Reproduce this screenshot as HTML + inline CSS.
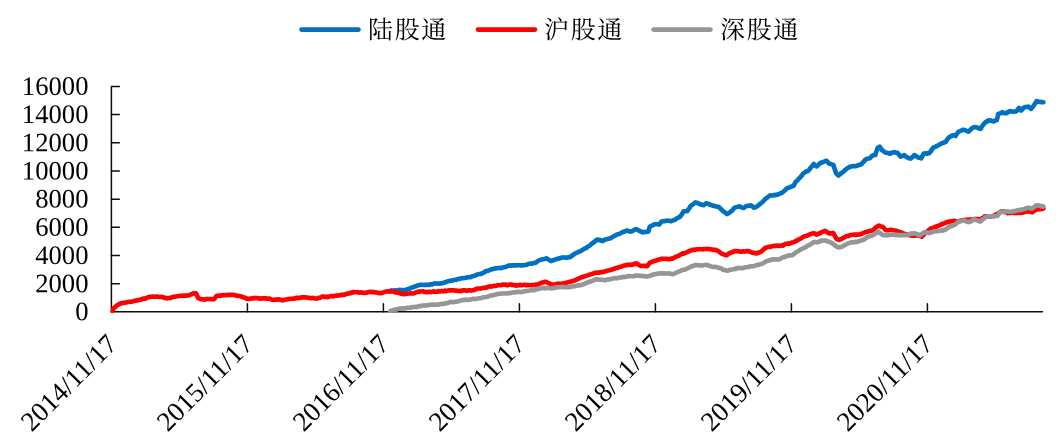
<!DOCTYPE html>
<html lang="zh-CN"><head><meta charset="utf-8"><title>chart</title>
<style>html,body{margin:0;padding:0;background:#fff}svg{display:block;will-change:transform}</style></head>
<body>
<svg width="1056" height="444" viewBox="0 0 1056 444">
<g stroke="#0d0d0d" stroke-width="1.5" fill="none" stroke-linecap="round">
<path d="M119.4,86.41 H111.4 V311.85 H1042.5" stroke-linejoin="round"/>
<path d="M111.4,283.67 h8"/>
<path d="M111.4,255.49 h8"/>
<path d="M111.4,227.31 h8"/>
<path d="M111.4,199.13 h8"/>
<path d="M111.4,170.95 h8"/>
<path d="M111.4,142.77 h8"/>
<path d="M111.4,114.59 h8"/>
<path d="M247.4,311.85 v-8"/>
<path d="M383.4,311.85 v-8"/>
<path d="M519.4,311.85 v-8"/>
<path d="M655.4,311.85 v-8"/>
<path d="M791.4,311.85 v-8"/>
<path d="M927.4,311.85 v-8"/>
</g>
<clipPath id="plot"><rect x="110.60" y="80" width="940" height="233.05"/></clipPath>
<g clip-path="url(#plot)">
<path d="M388.5,291.4 L389.1,291.3 L389.6,291.1 L390.2,290.9 L390.8,290.6 L391.4,290.4 L391.9,290.5 L392.5,290.4 L393.1,290.5 L393.8,290.5 L394.4,290.6 L395.0,290.5 L395.7,290.3 L396.3,290.4 L396.9,290.5 L397.6,290.5 L398.2,290.2 L398.8,290.0 L399.4,289.9 L400.1,289.9 L400.7,290.0 L401.3,290.0 L401.9,290.1 L402.6,290.1 L403.2,290.2 L403.8,290.2 L404.4,290.0 L405.0,290.0 L405.7,289.9 L406.3,289.9 L406.9,289.6 L407.5,289.2 L408.2,289.0 L408.8,288.8 L409.4,288.7 L410.0,288.5 L410.6,288.2 L411.2,287.8 L411.8,287.6 L412.4,287.5 L413.0,287.2 L413.7,287.0 L414.3,286.9 L414.9,286.5 L415.5,286.3 L416.1,286.3 L416.7,285.8 L417.3,285.5 L417.9,285.4 L418.6,285.2 L419.2,285.2 L419.8,285.1 L420.5,284.8 L421.1,284.8 L421.7,284.8 L422.4,284.8 L423.0,284.9 L423.6,285.0 L424.2,285.0 L424.9,284.8 L425.5,285.0 L426.1,284.9 L426.7,284.9 L427.4,284.8 L428.0,284.8 L428.6,284.8 L429.2,285.0 L429.8,284.5 L430.5,284.3 L431.1,284.3 L431.7,284.4 L432.3,284.4 L433.0,284.0 L433.6,283.6 L434.2,283.6 L434.8,283.5 L435.5,283.3 L436.1,283.4 L436.7,283.6 L437.4,283.5 L438.0,283.5 L438.6,283.5 L439.3,283.6 L439.9,283.6 L440.5,283.5 L441.1,283.4 L441.8,283.0 L442.4,283.1 L443.0,283.1 L443.6,283.0 L444.3,282.5 L444.9,282.3 L445.5,282.3 L446.1,281.8 L446.6,281.6 L447.2,281.6 L447.8,281.2 L448.3,281.3 L448.9,281.2 L449.4,281.0 L450.0,280.8 L450.6,280.8 L451.2,280.6 L451.8,280.7 L452.4,280.4 L453.0,280.2 L453.6,280.2 L454.2,280.1 L454.8,279.8 L455.4,279.8 L456.0,279.9 L456.6,279.6 L457.2,279.2 L457.8,279.1 L458.4,279.0 L459.0,278.8 L459.6,278.9 L460.2,278.6 L460.8,278.7 L461.4,278.3 L462.0,278.1 L462.6,278.1 L463.2,278.2 L463.8,278.2 L464.4,278.1 L465.0,277.9 L465.6,277.8 L466.2,277.7 L466.8,277.5 L467.4,277.4 L468.0,277.4 L468.6,277.2 L469.2,277.2 L469.8,277.1 L470.4,277.2 L471.0,277.1 L471.6,276.7 L472.2,276.4 L472.8,276.2 L473.4,276.1 L474.0,275.9 L474.6,275.7 L475.2,275.8 L475.8,275.1 L476.3,274.8 L476.9,274.7 L477.5,274.6 L478.1,274.4 L478.7,274.2 L479.3,274.1 L479.9,274.0 L480.5,273.7 L481.1,273.9 L481.7,273.6 L482.3,273.2 L482.9,273.0 L483.5,272.7 L484.1,272.4 L484.7,271.7 L485.3,271.5 L485.9,271.4 L486.4,271.0 L487.0,270.8 L487.6,270.8 L488.2,270.7 L488.8,270.6 L489.4,270.1 L490.0,269.8 L490.6,269.5 L491.2,269.4 L491.8,269.4 L492.4,268.9 L493.0,269.0 L493.6,268.7 L494.2,268.7 L494.8,268.4 L495.4,268.3 L496.0,268.4 L496.6,268.3 L497.2,268.2 L497.8,268.2 L498.4,268.1 L499.0,268.0 L499.6,268.1 L500.2,268.0 L500.8,267.8 L501.4,268.1 L502.0,267.7 L502.6,267.6 L503.2,267.4 L503.8,267.3 L504.4,267.2 L505.0,267.1 L505.6,267.0 L506.2,266.6 L506.7,266.2 L507.3,266.2 L507.9,265.9 L508.5,265.7 L509.1,265.4 L509.7,265.5 L510.3,265.6 L510.9,265.7 L511.5,265.4 L512.1,265.4 L512.7,265.2 L513.3,265.3 L513.9,265.5 L514.5,265.3 L515.1,265.5 L515.7,265.6 L516.3,265.5 L516.8,265.1 L517.4,265.3 L518.0,265.3 L518.6,265.1 L519.2,265.2 L519.8,265.2 L520.4,265.4 L521.0,265.2 L521.6,265.3 L522.2,265.4 L522.8,265.5 L523.4,265.3 L524.0,265.0 L524.6,265.0 L525.2,264.9 L525.8,264.8 L526.4,264.9 L527.0,264.7 L527.6,264.2 L528.2,264.1 L528.8,263.7 L529.4,263.8 L530.0,263.8 L530.6,263.7 L531.2,263.6 L531.8,263.7 L532.4,263.5 L533.0,263.4 L533.5,263.1 L534.1,263.0 L534.7,263.0 L535.3,262.9 L535.8,262.5 L536.4,262.3 L537.0,261.7 L537.6,261.2 L538.2,260.7 L538.7,260.7 L539.3,260.3 L539.9,260.1 L540.5,259.9 L541.1,259.7 L541.7,259.4 L542.3,259.3 L543.0,259.4 L543.6,259.2 L544.2,259.1 L544.8,259.0 L545.4,258.7 L546.0,258.3 L546.6,258.5 L547.2,259.0 L547.9,259.1 L548.5,259.4 L549.1,259.9 L549.8,260.3 L550.4,260.6 L551.0,261.1 L551.6,260.9 L552.2,260.6 L552.8,260.2 L553.4,260.0 L553.9,260.1 L554.5,259.9 L555.1,259.6 L555.7,259.4 L556.3,259.1 L556.9,259.0 L557.5,258.8 L558.1,258.8 L558.7,258.4 L559.3,258.4 L559.8,258.3 L560.4,257.9 L561.0,258.0 L561.6,257.9 L562.2,257.5 L562.8,257.4 L563.4,257.5 L564.0,257.4 L564.6,257.5 L565.2,257.6 L565.8,257.6 L566.4,257.6 L567.0,257.7 L567.6,257.7 L568.2,257.6 L568.8,257.1 L569.4,257.2 L570.0,257.3 L570.6,256.7 L571.2,256.2 L571.8,256.0 L572.4,255.2 L573.0,254.8 L573.6,254.7 L574.2,254.0 L574.8,253.6 L575.4,253.4 L576.0,253.1 L576.6,252.8 L577.3,252.6 L577.9,252.2 L578.5,251.9 L579.1,251.6 L579.7,251.4 L580.3,251.1 L581.0,250.8 L581.6,250.4 L582.2,250.1 L582.8,249.8 L583.4,249.4 L584.0,248.9 L584.6,248.4 L585.2,248.5 L585.9,248.2 L586.5,247.9 L587.1,247.0 L587.7,246.7 L588.3,246.4 L588.9,246.3 L589.5,245.8 L590.1,245.3 L590.6,244.9 L591.2,244.1 L591.8,243.8 L592.4,243.3 L593.0,242.7 L593.5,242.5 L594.1,242.3 L594.7,241.5 L595.3,240.9 L595.8,240.5 L596.4,240.1 L597.0,239.5 L597.6,239.5 L598.2,239.9 L598.8,240.2 L599.4,240.1 L600.0,239.9 L600.6,240.3 L601.2,240.6 L601.8,240.9 L602.4,241.1 L603.0,240.7 L603.6,240.5 L604.1,239.9 L604.7,239.7 L605.3,239.5 L605.9,239.4 L606.5,239.2 L607.0,239.0 L607.6,238.9 L608.2,238.8 L608.8,238.7 L609.3,238.6 L609.9,238.3 L610.5,238.3 L611.1,237.9 L611.7,237.4 L612.4,237.0 L613.0,236.7 L613.6,236.4 L614.2,236.1 L614.8,235.8 L615.4,235.5 L616.1,235.1 L616.7,234.6 L617.3,234.4 L617.9,234.3 L618.5,234.2 L619.1,233.9 L619.7,233.8 L620.3,233.4 L620.9,232.9 L621.5,232.8 L622.0,232.4 L622.6,232.4 L623.2,232.0 L623.8,231.5 L624.4,231.2 L625.0,231.4 L625.6,231.1 L626.2,230.8 L626.8,230.5 L627.4,230.7 L627.9,230.9 L628.5,231.0 L629.1,231.3 L629.7,231.5 L630.2,231.5 L630.8,231.6 L631.4,231.5 L632.0,231.3 L632.6,231.0 L633.2,230.5 L633.8,230.1 L634.4,229.9 L635.0,229.5 L635.6,229.3 L636.2,229.0 L636.8,229.4 L637.4,229.6 L638.1,230.2 L638.7,230.5 L639.3,230.7 L639.9,230.9 L640.5,231.5 L641.1,231.6 L641.8,231.9 L642.4,232.3 L643.0,232.4 L643.6,232.1 L644.2,232.0 L644.8,231.9 L645.4,232.0 L646.0,231.9 L646.6,231.8 L647.2,231.8 L647.8,231.7 L648.4,231.6 L649.0,229.2 L649.7,226.7 L650.3,226.6 L650.9,226.1 L651.5,225.8 L652.1,225.6 L652.7,225.2 L653.3,225.0 L653.9,224.5 L654.5,224.3 L655.1,224.2 L655.7,224.3 L656.3,224.3 L656.9,224.3 L657.4,224.0 L658.0,224.3 L658.6,224.4 L659.2,224.5 L659.9,223.6 L660.5,222.8 L661.2,221.8 L661.9,221.3 L662.5,221.4 L663.1,221.1 L663.7,221.2 L664.3,221.3 L664.9,221.1 L665.5,220.8 L666.1,220.8 L666.7,220.8 L667.3,220.6 L667.9,220.7 L668.5,220.7 L669.2,220.8 L669.8,220.9 L670.4,221.1 L671.0,221.1 L671.6,220.8 L672.2,220.7 L672.9,220.4 L673.5,220.2 L674.1,220.2 L674.7,219.9 L675.3,219.7 L675.9,219.1 L676.5,218.6 L677.0,218.3 L677.6,218.0 L678.2,217.7 L678.8,217.4 L679.4,217.0 L680.0,216.8 L680.6,216.0 L681.2,215.2 L681.8,214.3 L682.4,213.5 L683.0,212.3 L683.6,211.4 L684.2,211.5 L684.8,211.2 L685.4,211.3 L686.0,211.3 L686.6,211.1 L687.2,211.1 L687.8,210.2 L688.4,209.4 L689.0,208.6 L689.6,207.7 L690.2,206.6 L690.8,205.7 L691.4,205.4 L691.9,205.1 L692.5,204.8 L693.0,204.3 L693.6,203.7 L694.2,203.3 L694.7,202.9 L695.3,202.4 L695.9,202.6 L696.5,202.7 L697.1,202.9 L697.6,203.1 L698.2,203.2 L698.8,203.7 L699.4,203.8 L700.0,204.1 L700.5,204.4 L701.1,204.7 L701.7,204.5 L702.3,204.7 L702.8,205.0 L703.4,205.3 L703.9,205.1 L704.5,204.6 L705.0,204.2 L705.6,203.7 L706.1,203.2 L706.7,203.4 L707.2,203.5 L707.8,203.8 L708.4,203.7 L708.9,204.1 L709.5,204.1 L710.0,204.4 L710.6,204.9 L711.2,205.0 L711.8,205.2 L712.4,205.5 L713.0,205.7 L713.6,205.8 L714.2,206.0 L714.8,206.1 L715.3,206.3 L715.9,206.2 L716.5,206.5 L717.0,206.8 L717.6,206.8 L718.1,206.8 L718.7,206.7 L719.3,207.6 L719.9,208.0 L720.5,208.7 L721.1,209.2 L721.7,209.8 L722.3,210.5 L722.9,211.1 L723.4,211.4 L724.0,211.7 L724.5,212.2 L725.1,212.6 L725.7,213.0 L726.2,213.6 L726.8,214.1 L727.4,213.6 L728.0,213.6 L728.6,213.2 L729.3,212.9 L729.9,212.3 L730.5,211.9 L731.1,211.1 L731.6,210.9 L732.2,210.6 L732.8,209.8 L733.3,209.0 L733.9,208.3 L734.4,208.0 L735.0,207.5 L735.6,207.4 L736.1,207.2 L736.7,207.1 L737.2,206.9 L737.8,206.8 L738.4,206.5 L738.9,206.4 L739.5,206.4 L740.1,206.8 L740.7,207.0 L741.3,207.1 L741.9,207.4 L742.5,207.5 L743.1,208.0 L743.7,207.9 L744.2,207.5 L744.8,207.2 L745.4,206.8 L745.9,206.4 L746.5,206.1 L747.0,205.9 L747.6,205.7 L748.2,205.7 L748.8,205.9 L749.4,205.6 L750.0,205.5 L750.6,205.8 L751.2,205.3 L751.9,205.8 L752.5,206.4 L753.2,207.1 L753.9,207.8 L754.5,207.5 L755.1,207.3 L755.7,207.0 L756.3,206.9 L756.9,206.3 L757.5,206.0 L758.1,205.6 L758.8,205.0 L759.4,204.4 L760.0,204.1 L760.6,203.5 L761.1,203.1 L761.7,202.7 L762.3,202.1 L762.8,201.7 L763.4,201.1 L764.0,200.3 L764.5,199.7 L765.1,199.2 L765.7,198.7 L766.3,198.2 L766.9,197.8 L767.5,197.2 L768.1,196.8 L768.7,196.6 L769.3,195.9 L769.9,195.4 L770.5,195.4 L771.1,195.5 L771.7,195.5 L772.3,195.6 L772.9,195.4 L773.6,195.3 L774.2,195.2 L774.8,194.9 L775.4,195.1 L776.0,195.2 L776.6,194.8 L777.2,194.7 L777.8,194.4 L778.5,194.3 L779.1,194.1 L779.7,193.6 L780.3,193.3 L780.9,193.3 L781.5,192.9 L782.2,192.5 L782.8,192.1 L783.4,191.7 L784.0,191.2 L784.5,190.8 L785.1,190.2 L785.7,189.5 L786.2,189.2 L786.8,188.4 L787.4,188.0 L788.0,187.9 L788.6,187.8 L789.2,187.5 L789.8,187.1 L790.5,187.0 L791.1,186.9 L791.7,186.5 L792.3,186.3 L792.9,186.1 L793.5,186.0 L794.2,184.7 L794.8,183.4 L795.5,182.0 L796.1,181.6 L796.7,181.1 L797.3,180.4 L797.9,179.8 L798.5,179.0 L799.1,178.4 L799.7,177.8 L800.3,177.4 L800.8,176.6 L801.4,176.0 L802.0,175.3 L802.5,174.4 L803.0,173.8 L803.6,173.1 L804.2,172.9 L804.8,172.4 L805.4,171.9 L806.0,171.6 L806.6,171.5 L807.2,171.1 L807.8,171.0 L808.4,170.7 L809.0,169.9 L809.6,169.3 L810.2,168.3 L810.8,167.5 L811.4,166.8 L812.0,166.3 L812.6,165.5 L813.2,164.9 L813.8,164.0 L814.3,164.5 L814.9,165.2 L815.4,165.4 L816.0,166.2 L816.5,166.4 L817.1,165.9 L817.7,165.4 L818.3,165.1 L818.9,164.4 L819.4,163.6 L820.0,163.2 L820.6,162.9 L821.2,162.5 L821.8,162.7 L822.4,162.4 L823.0,162.1 L823.5,161.9 L824.1,161.7 L824.7,161.6 L825.3,161.1 L825.9,160.8 L826.5,160.7 L827.0,161.4 L827.6,161.8 L828.2,162.5 L828.7,163.3 L829.3,163.8 L829.9,163.9 L830.5,164.0 L831.1,164.1 L831.6,164.2 L832.2,164.6 L832.8,164.8 L833.4,165.0 L833.9,166.6 L834.5,168.4 L835.0,170.1 L835.6,171.7 L836.1,173.4 L836.7,173.9 L837.2,174.2 L837.8,175.0 L838.4,175.5 L839.0,174.9 L839.7,174.5 L840.3,174.1 L840.9,173.3 L841.5,173.1 L842.2,172.6 L842.8,172.2 L843.4,171.7 L844.0,171.1 L844.6,170.3 L845.2,170.0 L845.8,169.4 L846.4,168.9 L847.0,168.4 L847.6,167.9 L848.2,167.8 L848.8,167.5 L849.4,167.3 L850.0,166.7 L850.5,166.5 L851.1,166.5 L851.7,166.5 L852.3,166.2 L852.9,166.1 L853.5,166.2 L854.1,166.1 L854.6,166.0 L855.2,166.2 L855.8,166.0 L856.4,166.0 L857.0,165.7 L857.6,165.5 L858.2,165.2 L858.8,164.9 L859.4,164.8 L860.0,164.9 L860.6,164.4 L861.2,164.1 L861.8,163.8 L862.4,163.0 L863.0,162.4 L863.6,161.7 L864.2,161.0 L864.8,160.4 L865.4,159.5 L866.0,159.4 L866.5,159.1 L867.1,158.8 L867.6,158.7 L868.2,158.5 L868.8,158.5 L869.3,158.4 L869.9,158.3 L870.6,157.5 L871.2,156.8 L871.9,155.9 L872.5,155.7 L873.0,155.6 L873.6,155.3 L874.2,154.9 L874.7,155.0 L875.3,155.0 L875.9,152.9 L876.5,151.2 L877.0,149.6 L877.6,148.0 L878.1,147.8 L878.7,147.4 L879.2,146.9 L879.7,146.6 L880.3,147.7 L880.9,148.5 L881.4,149.2 L882.0,150.2 L882.6,150.4 L883.1,150.8 L883.7,151.3 L884.3,151.9 L884.8,152.2 L885.4,152.6 L886.0,152.7 L886.6,152.8 L887.2,152.8 L887.8,153.0 L888.3,153.2 L888.9,153.5 L889.5,153.8 L890.1,153.7 L890.7,153.4 L891.2,152.8 L891.8,152.9 L892.4,152.6 L892.9,152.4 L893.5,152.3 L894.1,152.2 L894.7,152.4 L895.3,152.6 L895.8,152.5 L896.4,152.7 L897.0,153.0 L897.6,152.9 L898.2,153.7 L898.8,154.4 L899.3,155.1 L899.9,155.8 L900.5,156.6 L901.1,156.3 L901.8,156.2 L902.4,155.9 L903.0,155.7 L903.7,155.3 L904.3,155.1 L904.9,155.8 L905.4,156.2 L906.0,156.6 L906.6,156.9 L907.1,157.2 L907.7,157.7 L908.4,158.0 L909.0,158.2 L909.7,158.4 L910.4,158.6 L911.0,158.3 L911.6,157.7 L912.2,157.1 L912.7,156.7 L913.3,156.2 L913.9,155.6 L914.5,155.0 L915.1,155.4 L915.6,155.9 L916.2,156.3 L916.8,156.5 L917.4,156.9 L917.9,157.3 L918.5,157.6 L919.0,157.8 L919.6,157.8 L920.1,157.9 L920.7,158.1 L921.2,158.3 L921.9,157.0 L922.5,155.8 L923.2,154.4 L923.9,153.5 L924.5,153.4 L925.1,153.5 L925.7,153.3 L926.3,153.4 L926.9,153.7 L927.5,153.2 L928.1,153.1 L928.7,153.1 L929.3,153.1 L929.9,152.2 L930.5,151.8 L931.1,150.9 L931.6,149.9 L932.2,149.3 L932.8,148.2 L933.4,147.6 L934.0,147.3 L934.5,147.1 L935.1,147.0 L935.7,146.8 L936.3,146.3 L936.8,145.8 L937.4,145.8 L938.0,145.5 L938.7,144.9 L939.4,144.6 L940.0,144.2 L940.6,144.1 L941.2,143.5 L941.8,143.2 L942.4,143.1 L943.0,143.0 L943.6,142.9 L944.2,142.3 L944.8,142.1 L945.4,142.0 L946.0,141.6 L946.5,140.6 L947.1,139.7 L947.7,138.9 L948.2,138.3 L948.8,137.4 L949.4,137.3 L949.9,136.8 L950.5,136.6 L951.1,136.2 L951.7,135.9 L952.2,135.5 L952.8,135.0 L953.3,135.3 L953.9,135.5 L954.4,135.6 L955.0,135.7 L955.5,136.0 L956.0,135.0 L956.6,134.2 L957.1,133.5 L957.7,132.8 L958.2,131.9 L958.8,131.4 L959.4,131.3 L960.0,131.1 L960.6,130.9 L961.2,130.6 L961.8,130.4 L962.4,130.1 L963.0,129.7 L963.6,129.8 L964.2,130.0 L964.8,130.2 L965.4,130.3 L966.0,130.7 L966.6,130.8 L967.2,131.2 L967.8,131.3 L968.4,131.6 L969.0,131.3 L969.5,130.8 L970.1,130.1 L970.7,129.5 L971.2,129.0 L971.8,128.2 L972.4,127.9 L972.9,127.7 L973.5,127.5 L974.1,127.3 L974.7,127.2 L975.2,127.1 L975.8,127.0 L976.4,127.3 L977.0,127.5 L977.6,127.8 L978.1,128.1 L978.7,128.3 L979.3,128.6 L979.9,128.6 L980.5,128.9 L981.1,128.1 L981.6,127.0 L982.2,126.2 L982.8,125.4 L983.3,124.5 L983.9,124.0 L984.5,123.1 L985.1,122.7 L985.7,122.0 L986.2,121.8 L986.8,121.8 L987.4,121.0 L988.0,120.6 L988.6,120.3 L989.2,120.4 L989.8,120.6 L990.4,120.4 L991.0,120.7 L991.6,120.9 L992.2,121.1 L992.8,121.1 L993.4,121.4 L994.0,121.1 L994.5,121.0 L995.1,120.8 L995.7,120.3 L996.2,120.2 L996.8,120.1 L997.5,117.2 L998.1,114.1 L998.7,113.8 L999.3,113.6 L999.9,113.4 L1000.4,113.3 L1001.0,113.3 L1001.6,112.8 L1002.2,112.2 L1002.8,112.5 L1003.4,112.8 L1004.0,113.0 L1004.5,113.2 L1005.1,113.1 L1005.7,113.1 L1006.3,113.3 L1006.9,113.3 L1007.4,112.5 L1008.0,111.9 L1008.5,111.9 L1009.1,111.7 L1009.6,111.1 L1010.2,111.1 L1010.7,111.2 L1011.3,111.2 L1011.9,111.5 L1012.4,111.6 L1013.0,111.5 L1013.6,111.7 L1014.1,111.6 L1014.7,111.6 L1015.3,111.5 L1015.8,111.4 L1016.4,111.4 L1016.9,110.8 L1017.5,109.9 L1018.0,109.1 L1018.6,108.4 L1019.1,107.9 L1019.8,108.7 L1020.4,109.6 L1021.1,110.5 L1021.7,110.1 L1022.2,109.4 L1022.8,108.8 L1023.4,108.0 L1023.9,107.6 L1024.5,107.2 L1025.1,107.2 L1025.6,107.0 L1026.2,106.9 L1026.8,106.9 L1027.4,106.8 L1027.9,106.7 L1028.5,106.6 L1029.0,107.1 L1029.6,107.8 L1030.1,108.1 L1030.7,108.5 L1031.2,108.9 L1031.7,108.0 L1032.3,107.4 L1032.8,106.9 L1033.4,106.0 L1033.9,105.2 L1034.6,104.3 L1035.2,103.4 L1035.9,102.5 L1036.6,101.1 L1037.2,101.2 L1037.7,101.4 L1038.3,101.8 L1038.9,101.9 L1039.4,101.9 L1040.0,102.0 L1040.6,101.9 L1041.1,101.9 L1041.7,102.2 L1042.3,102.1 L1042.8,102.2 L1043.4,102.2" fill="none" stroke="#0070C0" stroke-width="4.6" stroke-linejoin="round" stroke-linecap="round"/>
<path d="M111.4,311.7 L112.0,311.2 L112.6,310.2 L113.2,309.1 L113.8,308.1 L114.4,307.7 L115.0,307.2 L115.5,306.8 L116.1,306.1 L116.7,305.5 L117.3,305.2 L117.9,304.9 L118.4,304.7 L119.0,304.1 L119.6,303.8 L120.2,303.7 L120.8,303.4 L121.4,303.2 L121.9,303.1 L122.5,303.2 L123.1,303.1 L123.7,302.9 L124.3,302.6 L124.9,302.8 L125.5,302.7 L126.1,302.6 L126.6,302.3 L127.2,302.2 L127.8,302.0 L128.4,301.9 L129.0,301.9 L129.6,301.9 L130.2,301.9 L130.8,301.7 L131.4,301.8 L131.9,301.7 L132.5,301.3 L133.1,301.3 L133.7,301.1 L134.3,301.0 L134.9,300.8 L135.5,300.7 L136.0,300.4 L136.6,300.3 L137.2,300.4 L137.8,300.4 L138.4,300.2 L138.9,300.0 L139.5,299.9 L140.1,299.7 L140.7,299.7 L141.3,299.5 L141.9,299.0 L142.5,298.9 L143.1,298.6 L143.6,298.7 L144.2,298.5 L144.8,298.4 L145.4,298.6 L146.0,298.3 L146.6,298.0 L147.2,297.7 L147.7,297.3 L148.3,297.1 L148.9,297.2 L149.5,297.1 L150.1,296.8 L150.6,296.6 L151.2,296.8 L151.8,296.7 L152.4,296.6 L153.0,296.6 L153.6,296.7 L154.2,296.9 L154.9,296.9 L155.5,296.7 L156.1,296.5 L156.7,296.6 L157.3,296.6 L157.9,296.6 L158.5,296.8 L159.1,296.9 L159.7,297.0 L160.3,297.0 L160.9,296.9 L161.4,296.9 L162.0,296.8 L162.6,297.2 L163.2,297.5 L163.8,297.4 L164.4,297.8 L165.0,298.1 L165.6,297.9 L166.2,298.1 L166.8,298.2 L167.4,298.4 L167.9,298.1 L168.5,298.0 L169.1,298.0 L169.7,297.9 L170.3,297.9 L170.9,297.9 L171.4,297.6 L172.0,297.3 L172.6,297.1 L173.2,297.0 L173.8,296.8 L174.4,296.8 L175.0,296.7 L175.5,296.6 L176.1,296.4 L176.7,296.2 L177.3,296.3 L177.9,296.2 L178.5,296.1 L179.0,295.9 L179.6,296.0 L180.2,295.7 L180.8,295.7 L181.4,295.8 L182.1,295.7 L182.7,295.8 L183.3,295.6 L183.9,295.8 L184.6,295.7 L185.2,295.5 L185.8,295.6 L186.4,295.4 L187.1,295.6 L187.7,295.5 L188.3,295.5 L188.9,295.3 L189.6,294.9 L190.2,294.7 L190.8,294.4 L191.5,294.2 L192.1,293.9 L192.7,293.9 L193.4,293.4 L194.0,293.6 L194.6,293.5 L195.3,293.2 L195.9,293.2 L196.5,294.4 L197.1,295.8 L197.6,296.7 L198.2,298.1 L198.8,298.2 L199.5,298.8 L200.1,298.9 L200.7,299.1 L201.4,299.2 L202.0,299.2 L202.6,299.3 L203.2,299.4 L203.8,299.6 L204.4,299.7 L205.0,299.5 L205.6,299.2 L206.2,299.1 L206.8,299.0 L207.4,298.9 L208.1,299.0 L208.7,299.1 L209.3,299.0 L209.9,299.1 L210.5,299.0 L211.1,299.1 L211.7,299.2 L212.3,299.3 L212.9,299.2 L213.5,299.0 L214.1,299.2 L214.7,298.4 L215.2,297.8 L215.8,296.8 L216.4,296.0 L217.0,296.0 L217.6,295.7 L218.2,295.6 L218.8,295.6 L219.4,295.7 L220.0,295.9 L220.6,295.6 L221.1,295.3 L221.7,295.4 L222.3,295.4 L222.9,295.4 L223.5,295.1 L224.1,295.1 L224.7,295.2 L225.3,295.2 L225.9,295.1 L226.5,295.1 L227.1,295.2 L227.6,295.0 L228.2,294.7 L228.8,294.8 L229.4,294.9 L230.0,294.8 L230.6,295.0 L231.2,294.8 L231.8,294.8 L232.4,294.7 L232.9,294.8 L233.5,295.0 L234.1,294.9 L234.7,295.2 L235.3,295.3 L235.9,295.5 L236.5,295.6 L237.1,295.9 L237.7,295.9 L238.4,296.0 L239.0,295.9 L239.6,296.0 L240.2,296.3 L240.8,296.5 L241.4,296.6 L242.0,296.8 L242.6,297.1 L243.2,297.1 L243.8,297.5 L244.3,297.7 L244.9,297.8 L245.5,298.0 L246.1,298.2 L246.7,298.7 L247.3,298.9 L247.9,298.6 L248.5,298.8 L249.1,298.9 L249.8,298.8 L250.4,298.5 L251.0,298.4 L251.6,298.3 L252.2,298.4 L252.8,298.4 L253.4,298.1 L254.1,298.2 L254.7,298.0 L255.3,298.2 L255.9,298.0 L256.5,298.0 L257.1,298.0 L257.7,298.0 L258.3,298.3 L258.9,298.5 L259.5,298.6 L260.1,298.7 L260.8,298.5 L261.4,298.4 L262.0,298.4 L262.6,298.3 L263.2,298.5 L263.8,298.4 L264.4,298.4 L265.0,298.3 L265.6,298.1 L266.2,298.4 L266.8,298.7 L267.4,298.8 L268.0,298.8 L268.6,298.5 L269.2,298.6 L269.8,298.9 L270.4,299.1 L271.0,299.3 L271.6,299.6 L272.2,299.8 L272.8,299.7 L273.4,299.9 L274.0,300.0 L274.6,299.8 L275.2,299.7 L275.8,299.5 L276.4,299.5 L277.1,299.7 L277.7,299.5 L278.3,299.3 L278.9,299.5 L279.6,299.6 L280.2,299.9 L280.8,299.7 L281.4,299.9 L282.1,300.2 L282.7,300.4 L283.3,300.2 L283.9,300.0 L284.5,299.8 L285.0,299.8 L285.6,299.8 L286.2,299.6 L286.8,299.3 L287.4,299.2 L288.0,299.0 L288.5,299.0 L289.1,298.9 L289.7,299.0 L290.3,299.0 L290.9,298.8 L291.5,298.7 L292.1,298.8 L292.7,298.6 L293.3,298.6 L293.9,298.6 L294.5,298.7 L295.1,298.6 L295.7,298.2 L296.4,297.9 L297.0,297.9 L297.6,297.9 L298.2,298.2 L298.8,297.9 L299.4,298.0 L300.0,298.0 L300.6,297.6 L301.2,297.4 L301.8,297.4 L302.4,297.3 L303.0,297.3 L303.6,297.4 L304.2,297.3 L304.8,297.5 L305.4,297.4 L306.0,297.4 L306.6,297.5 L307.2,297.5 L307.8,297.6 L308.4,297.9 L309.0,297.9 L309.5,297.9 L310.1,298.1 L310.7,298.0 L311.3,298.2 L311.9,298.0 L312.5,298.2 L313.1,298.1 L313.7,298.0 L314.3,298.4 L314.9,298.2 L315.5,298.5 L316.1,298.6 L316.7,298.6 L317.3,298.2 L317.9,298.1 L318.5,298.1 L319.1,297.8 L319.7,297.5 L320.3,297.6 L320.9,297.3 L321.5,297.0 L322.1,296.6 L322.7,296.6 L323.3,296.6 L323.9,296.6 L324.5,296.9 L325.0,296.7 L325.6,296.8 L326.2,296.9 L326.8,296.7 L327.4,296.8 L328.0,297.1 L328.6,296.8 L329.2,296.6 L329.8,296.4 L330.3,296.1 L330.9,296.3 L331.5,296.0 L332.1,296.2 L332.7,296.5 L333.3,296.1 L333.9,296.0 L334.5,295.7 L335.1,295.8 L335.7,295.7 L336.3,295.6 L336.9,295.6 L337.5,295.6 L338.1,295.5 L338.8,295.5 L339.4,295.3 L340.0,295.3 L340.6,295.1 L341.2,295.0 L341.8,294.7 L342.4,294.6 L343.0,294.9 L343.6,294.9 L344.2,294.6 L344.8,294.6 L345.4,294.3 L346.0,294.0 L346.6,293.8 L347.2,293.8 L347.8,293.8 L348.4,293.6 L349.0,293.3 L349.7,293.1 L350.3,293.2 L350.9,293.1 L351.5,292.8 L352.1,292.4 L352.7,292.1 L353.3,292.4 L353.9,292.1 L354.5,292.1 L355.1,292.2 L355.7,292.3 L356.3,292.3 L356.9,292.2 L357.6,292.1 L358.2,292.4 L358.8,292.4 L359.4,292.6 L360.0,292.4 L360.6,292.4 L361.2,292.5 L361.8,292.7 L362.4,292.6 L363.1,292.8 L363.7,292.9 L364.3,292.8 L364.9,292.9 L365.5,292.8 L366.1,292.7 L366.8,292.7 L367.4,292.2 L368.1,292.2 L368.7,292.1 L369.4,291.9 L370.0,291.8 L370.6,292.0 L371.2,292.0 L371.9,292.2 L372.5,292.1 L373.1,291.9 L373.7,292.2 L374.4,292.2 L375.0,292.4 L375.6,292.2 L376.2,292.5 L376.9,292.6 L377.5,292.8 L378.1,292.9 L378.8,293.2 L379.4,293.1 L380.0,293.1 L380.7,293.0 L381.3,293.3 L381.9,293.0 L382.5,292.7 L383.1,292.5 L383.7,292.3 L384.3,292.0 L385.0,291.9 L385.6,291.7 L386.2,291.6 L386.8,291.3 L387.4,291.3 L388.0,291.1 L388.6,291.3 L389.1,291.4 L389.7,291.5 L390.2,291.3 L390.8,291.3 L391.4,291.3 L391.9,291.6 L392.5,291.5 L393.1,291.6 L393.8,291.7 L394.4,291.9 L395.0,292.2 L395.7,292.3 L396.3,292.6 L396.9,292.5 L397.6,292.4 L398.2,292.8 L398.8,293.1 L399.4,293.3 L400.1,293.4 L400.7,293.6 L401.3,293.6 L401.9,293.8 L402.6,293.9 L403.2,294.2 L403.8,294.3 L404.4,293.9 L405.0,293.7 L405.7,293.9 L406.3,293.8 L406.9,293.7 L407.5,293.7 L408.2,293.6 L408.8,293.5 L409.4,293.5 L410.0,293.4 L410.6,293.5 L411.2,293.3 L411.8,293.5 L412.4,293.5 L413.0,293.5 L413.6,293.4 L414.3,293.2 L414.9,292.9 L415.5,292.7 L416.1,292.3 L416.7,292.1 L417.3,291.8 L417.9,291.9 L418.5,291.8 L419.1,291.7 L419.7,291.4 L420.3,291.5 L420.9,291.5 L421.5,291.4 L422.1,291.3 L422.7,291.0 L423.3,291.3 L423.9,291.4 L424.5,291.9 L425.1,291.9 L425.7,291.9 L426.3,292.2 L426.9,292.1 L427.6,292.1 L428.2,291.9 L428.8,291.7 L429.5,291.9 L430.1,291.9 L430.7,292.1 L431.4,291.9 L432.0,291.8 L432.6,291.6 L433.2,291.7 L433.9,291.4 L434.5,291.5 L435.1,291.7 L435.7,291.8 L436.4,291.6 L437.0,291.8 L437.6,291.6 L438.2,291.4 L438.8,291.1 L439.5,291.3 L440.1,291.5 L440.7,291.3 L441.3,291.1 L441.9,291.0 L442.5,291.3 L443.2,291.4 L443.8,291.2 L444.4,290.8 L445.0,290.6 L445.6,290.8 L446.3,291.1 L446.9,290.9 L447.5,290.7 L448.1,290.6 L448.8,290.3 L449.4,290.4 L450.0,290.3 L450.6,290.5 L451.2,290.3 L451.8,290.2 L452.4,290.3 L453.0,290.3 L453.6,290.5 L454.2,290.5 L454.8,290.4 L455.4,290.6 L456.0,290.8 L456.6,290.5 L457.2,290.9 L457.8,291.0 L458.4,291.1 L459.0,290.9 L459.6,290.8 L460.2,290.8 L460.8,291.1 L461.4,290.8 L462.0,290.7 L462.6,290.4 L463.2,290.4 L463.8,290.5 L464.4,290.3 L465.0,290.3 L465.6,290.4 L466.2,290.7 L466.8,290.8 L467.4,290.7 L468.0,290.5 L468.6,290.3 L469.2,290.3 L469.8,290.3 L470.4,290.3 L471.0,290.6 L471.6,290.5 L472.2,290.2 L472.8,290.3 L473.4,290.3 L474.0,290.1 L474.6,289.8 L475.2,289.4 L475.8,289.1 L476.3,289.2 L476.9,288.9 L477.5,288.6 L478.1,288.6 L478.7,288.5 L479.3,288.5 L479.9,288.5 L480.5,288.6 L481.1,288.3 L481.7,288.3 L482.3,288.0 L482.9,288.0 L483.5,287.8 L484.1,287.7 L484.7,287.7 L485.3,287.6 L485.9,287.6 L486.4,287.5 L487.0,287.4 L487.6,287.1 L488.2,286.8 L488.8,286.6 L489.4,286.4 L490.0,286.3 L490.6,286.7 L491.2,286.6 L491.8,286.5 L492.4,286.3 L493.0,286.1 L493.6,285.9 L494.2,285.9 L494.8,285.7 L495.4,285.9 L496.0,285.7 L496.6,285.8 L497.2,285.3 L497.8,285.3 L498.4,285.3 L499.0,285.3 L499.6,285.3 L500.2,285.3 L500.8,285.3 L501.4,284.9 L502.0,284.8 L502.6,284.5 L503.2,284.6 L503.8,284.7 L504.4,284.7 L505.0,284.6 L505.6,284.6 L506.2,284.9 L506.7,285.2 L507.3,285.1 L507.9,285.3 L508.5,285.0 L509.1,284.6 L509.7,284.6 L510.3,284.5 L510.9,284.4 L511.5,284.5 L512.1,285.1 L512.7,285.0 L513.3,285.0 L513.9,285.1 L514.5,285.1 L515.1,285.3 L515.7,285.6 L516.3,285.4 L516.8,285.4 L517.4,285.4 L518.0,285.5 L518.6,285.3 L519.2,285.1 L519.8,284.8 L520.4,285.0 L521.0,285.2 L521.6,285.3 L522.2,285.0 L522.8,285.0 L523.4,284.9 L524.0,284.8 L524.6,284.7 L525.2,284.9 L525.8,285.1 L526.4,285.1 L527.0,285.2 L527.6,285.1 L528.2,285.1 L528.8,285.1 L529.4,285.2 L530.0,285.2 L530.6,285.2 L531.2,285.1 L531.8,285.0 L532.4,285.3 L533.0,285.2 L533.5,285.0 L534.1,285.2 L534.7,285.2 L535.3,284.7 L535.8,284.6 L536.4,284.5 L537.0,284.6 L537.6,284.6 L538.2,284.4 L538.7,284.0 L539.3,283.6 L539.9,283.5 L540.5,283.4 L541.1,283.0 L541.7,282.8 L542.3,282.5 L543.0,282.4 L543.6,282.3 L544.2,282.1 L544.8,281.7 L545.4,281.8 L546.0,281.9 L546.6,282.1 L547.2,282.5 L547.9,282.8 L548.5,283.2 L549.1,283.5 L549.8,283.6 L550.4,284.0 L551.0,284.4 L551.6,284.2 L552.2,284.4 L552.8,284.6 L553.4,284.7 L554.0,284.8 L554.6,284.8 L555.2,284.5 L555.8,284.3 L556.4,284.0 L557.0,283.9 L557.6,283.8 L558.2,283.9 L558.8,283.5 L559.4,283.8 L560.0,284.0 L560.6,283.9 L561.2,283.8 L561.9,283.7 L562.5,283.6 L563.1,283.4 L563.7,283.3 L564.3,283.0 L564.9,283.0 L565.6,282.9 L566.2,282.8 L566.8,282.6 L567.4,282.4 L568.0,282.3 L568.6,282.2 L569.2,281.8 L569.8,281.7 L570.5,281.7 L571.1,281.6 L571.7,281.3 L572.3,281.1 L572.9,280.9 L573.5,280.8 L574.1,280.8 L574.7,280.5 L575.4,280.1 L576.0,279.9 L576.6,279.6 L577.2,279.2 L577.8,278.9 L578.4,278.6 L579.1,278.5 L579.7,278.1 L580.3,277.7 L580.9,277.6 L581.5,277.3 L582.1,277.1 L582.7,277.0 L583.3,276.8 L584.0,276.5 L584.6,276.3 L585.2,276.1 L585.8,276.0 L586.4,275.7 L587.0,275.7 L587.6,275.3 L588.2,275.0 L588.7,274.9 L589.3,274.8 L589.9,274.5 L590.5,274.4 L591.0,274.1 L591.6,274.0 L592.2,274.0 L592.8,273.7 L593.4,273.5 L593.9,273.1 L594.5,273.0 L595.1,272.9 L595.7,272.8 L596.3,272.6 L596.9,272.6 L597.5,272.7 L598.1,272.8 L598.7,272.8 L599.3,272.4 L599.9,272.2 L600.5,272.4 L601.1,272.0 L601.7,272.1 L602.4,272.2 L603.0,272.1 L603.6,272.0 L604.2,271.8 L604.8,271.4 L605.4,271.2 L606.1,271.0 L606.7,270.8 L607.3,270.8 L607.9,270.5 L608.5,270.4 L609.2,270.2 L609.8,270.0 L610.4,270.1 L611.0,269.9 L611.6,269.7 L612.2,269.4 L612.9,269.1 L613.5,269.1 L614.1,268.9 L614.7,268.6 L615.3,268.3 L615.9,268.1 L616.5,267.9 L617.1,267.9 L617.8,267.6 L618.4,267.5 L619.0,267.3 L619.6,267.0 L620.2,266.9 L620.8,266.7 L621.4,266.6 L622.0,266.4 L622.6,266.2 L623.2,265.8 L623.8,265.5 L624.4,265.5 L625.0,265.5 L625.6,265.3 L626.2,265.0 L626.8,265.2 L627.4,264.8 L628.0,264.7 L628.6,264.9 L629.2,265.0 L629.8,264.8 L630.4,264.6 L631.0,264.8 L631.6,264.9 L632.2,264.6 L632.8,264.5 L633.4,264.4 L634.0,263.9 L634.6,263.9 L635.2,263.9 L635.8,263.4 L636.4,263.4 L637.0,263.5 L637.6,264.0 L638.2,264.4 L638.8,265.0 L639.3,265.2 L639.9,265.4 L640.5,265.9 L641.1,266.0 L641.7,265.9 L642.3,265.8 L642.9,265.8 L643.5,265.7 L644.2,265.8 L644.8,265.9 L645.4,265.9 L646.0,266.2 L646.6,266.1 L647.2,266.2 L647.9,265.3 L648.5,264.5 L649.2,263.4 L649.9,262.6 L650.5,262.4 L651.1,262.2 L651.7,262.0 L652.3,261.8 L652.9,261.6 L653.5,261.2 L654.1,261.0 L654.7,260.9 L655.3,260.8 L655.9,260.6 L656.5,260.3 L657.1,260.2 L657.7,260.0 L658.3,259.6 L659.0,259.6 L659.6,259.5 L660.2,259.3 L660.8,259.1 L661.4,258.7 L662.0,258.7 L662.6,258.9 L663.2,258.8 L663.9,258.7 L664.5,258.8 L665.1,258.8 L665.7,258.8 L666.3,258.9 L666.9,258.9 L667.5,259.0 L668.2,259.1 L668.8,259.2 L669.4,259.3 L670.0,259.0 L670.6,258.7 L671.2,258.5 L671.8,258.5 L672.3,258.6 L672.9,258.3 L673.5,258.2 L674.1,257.8 L674.7,257.4 L675.4,257.0 L676.0,256.8 L676.6,256.5 L677.2,256.4 L677.8,255.9 L678.4,255.7 L679.1,255.5 L679.7,255.1 L680.3,254.9 L680.9,254.5 L681.5,254.1 L682.1,253.8 L682.7,253.4 L683.3,253.7 L684.0,253.3 L684.6,253.3 L685.2,253.0 L685.8,252.7 L686.4,252.6 L687.0,252.1 L687.6,252.0 L688.2,251.7 L688.8,251.2 L689.4,251.0 L690.0,250.8 L690.6,250.6 L691.2,250.6 L691.8,250.2 L692.4,249.9 L693.0,250.0 L693.6,249.8 L694.1,250.0 L694.7,249.7 L695.3,249.5 L695.9,249.6 L696.5,249.4 L697.0,249.4 L697.6,249.2 L698.2,249.3 L698.8,249.1 L699.3,249.3 L699.9,249.1 L700.5,249.2 L701.1,249.2 L701.7,249.3 L702.4,249.3 L703.0,249.4 L703.6,249.2 L704.2,248.9 L704.8,249.0 L705.4,249.0 L706.1,249.0 L706.7,249.1 L707.3,248.9 L707.9,248.9 L708.5,249.0 L709.2,249.0 L709.8,249.2 L710.4,249.3 L711.0,249.3 L711.6,249.3 L712.2,249.6 L712.9,249.6 L713.5,249.8 L714.1,249.9 L714.7,249.8 L715.2,249.8 L715.8,250.0 L716.4,250.2 L717.0,250.5 L717.5,250.8 L718.1,251.0 L718.7,251.4 L719.3,251.8 L719.9,252.3 L720.4,252.7 L721.0,253.2 L721.6,253.4 L722.2,253.9 L722.8,254.1 L723.3,254.1 L723.9,254.5 L724.5,254.8 L725.1,255.0 L725.6,255.1 L726.2,255.3 L726.8,255.3 L727.4,254.9 L728.0,254.1 L728.5,253.8 L729.1,253.4 L729.7,253.2 L730.3,253.0 L730.9,252.6 L731.5,252.3 L732.1,252.3 L732.6,251.8 L733.2,251.9 L733.8,251.6 L734.4,251.1 L735.0,251.0 L735.6,251.2 L736.2,251.1 L736.8,251.3 L737.4,251.1 L738.0,251.1 L738.7,251.4 L739.3,251.5 L739.9,251.4 L740.5,251.6 L741.1,251.8 L741.7,251.8 L742.3,251.4 L742.9,251.3 L743.5,251.3 L744.1,251.4 L744.8,251.6 L745.4,251.4 L746.0,251.2 L746.6,251.1 L747.2,251.2 L747.8,250.9 L748.4,251.4 L749.0,251.2 L749.6,251.5 L750.2,251.7 L750.8,252.0 L751.4,252.4 L752.0,252.4 L752.6,252.7 L753.2,252.8 L753.7,253.1 L754.3,253.0 L754.9,253.0 L755.5,252.9 L756.0,253.4 L756.6,253.5 L757.2,253.3 L757.8,252.8 L758.4,252.8 L758.9,252.4 L759.5,252.4 L760.1,252.3 L760.7,252.1 L761.3,251.7 L761.8,251.0 L762.4,250.4 L763.0,249.9 L763.6,249.2 L764.1,248.8 L764.7,248.3 L765.3,248.4 L765.9,247.7 L766.5,247.5 L767.1,247.2 L767.6,247.1 L768.2,247.0 L768.8,247.0 L769.4,246.8 L770.0,246.6 L770.6,246.7 L771.2,246.7 L771.8,246.3 L772.4,246.3 L773.0,246.0 L773.5,245.9 L774.1,245.9 L774.7,245.9 L775.3,245.9 L775.9,245.8 L776.5,245.7 L777.1,245.6 L777.7,245.6 L778.3,245.7 L778.9,245.9 L779.5,246.0 L780.2,245.8 L780.8,245.6 L781.4,245.4 L782.0,245.4 L782.6,245.7 L783.2,245.5 L783.8,244.9 L784.4,244.5 L785.0,244.1 L785.5,244.0 L786.1,243.8 L786.7,243.7 L787.3,243.7 L787.9,243.5 L788.5,243.4 L789.1,243.6 L789.7,243.6 L790.3,243.4 L790.9,243.0 L791.5,242.8 L792.1,242.4 L792.7,242.5 L793.3,242.2 L793.9,242.1 L794.5,241.8 L795.1,241.4 L795.7,241.0 L796.3,241.0 L796.9,240.4 L797.5,240.1 L798.1,239.8 L798.7,239.6 L799.3,239.2 L799.9,238.9 L800.5,238.7 L801.1,238.3 L801.7,237.9 L802.3,237.5 L802.9,237.1 L803.5,236.7 L804.1,236.4 L804.7,236.2 L805.3,236.2 L805.9,236.1 L806.5,235.8 L807.1,235.6 L807.7,235.3 L808.3,235.2 L808.9,234.9 L809.5,234.6 L810.1,234.3 L810.7,233.9 L811.2,233.8 L811.8,233.8 L812.4,233.6 L813.0,233.4 L813.6,233.2 L814.2,233.4 L814.7,233.5 L815.3,233.9 L815.8,234.3 L816.4,234.6 L817.0,234.1 L817.6,234.1 L818.2,233.5 L818.8,233.5 L819.3,233.3 L819.9,233.4 L820.5,232.9 L821.1,232.6 L821.7,232.2 L822.2,232.0 L822.8,231.8 L823.4,231.5 L824.0,231.4 L824.5,231.1 L825.1,230.8 L825.7,231.3 L826.3,231.6 L826.9,231.9 L827.4,232.4 L828.0,232.7 L828.6,232.9 L829.2,233.4 L829.8,233.3 L830.3,233.5 L830.9,233.3 L831.5,233.4 L832.1,233.2 L832.6,233.1 L833.2,233.0 L833.8,234.0 L834.3,235.1 L834.9,236.2 L835.5,237.0 L836.0,238.0 L836.6,239.0 L837.3,239.3 L838.0,239.4 L838.6,239.7 L839.3,239.9 L839.9,239.6 L840.5,239.2 L841.1,238.9 L841.7,238.7 L842.3,238.4 L843.0,238.0 L843.6,237.7 L844.2,237.5 L844.8,237.0 L845.4,236.8 L846.0,236.3 L846.6,236.2 L847.2,236.1 L847.8,236.2 L848.4,236.0 L849.0,235.7 L849.6,235.4 L850.2,235.0 L850.8,235.0 L851.4,234.9 L852.0,234.8 L852.5,234.8 L853.1,234.7 L853.7,234.6 L854.3,234.5 L854.8,234.8 L855.4,235.0 L856.0,234.9 L856.6,234.6 L857.2,234.6 L857.7,234.6 L858.3,234.6 L858.9,234.6 L859.5,234.4 L860.1,234.3 L860.8,234.2 L861.4,233.9 L862.0,233.6 L862.6,233.3 L863.2,233.2 L863.8,232.8 L864.5,232.6 L865.1,232.3 L865.7,231.9 L866.3,231.8 L866.9,231.7 L867.5,231.6 L868.1,231.6 L868.7,231.2 L869.4,231.0 L870.0,230.9 L870.6,230.9 L871.2,230.6 L871.8,230.6 L872.4,230.4 L873.0,230.1 L873.5,229.6 L874.1,229.1 L874.7,228.8 L875.2,228.1 L875.8,227.4 L876.4,227.1 L876.9,226.7 L877.5,226.4 L878.1,225.9 L878.6,225.7 L879.2,225.6 L879.8,226.0 L880.3,226.1 L880.9,226.6 L881.5,226.7 L882.0,226.8 L882.6,226.8 L883.3,227.4 L883.9,228.0 L884.6,228.9 L885.2,229.7 L885.9,230.2 L886.5,230.3 L887.1,230.3 L887.7,230.3 L888.3,230.2 L889.0,230.1 L889.6,230.0 L890.2,229.7 L890.8,229.7 L891.4,229.9 L892.0,230.1 L892.6,230.2 L893.2,230.2 L893.8,230.2 L894.4,230.5 L895.0,230.6 L895.6,230.6 L896.2,230.8 L896.8,230.8 L897.4,231.1 L898.0,231.3 L898.6,231.4 L899.2,231.7 L899.8,232.1 L900.4,232.1 L901.0,232.4 L901.6,232.8 L902.2,233.0 L902.8,233.1 L903.4,233.6 L904.0,233.8 L904.6,234.1 L905.2,234.1 L905.8,234.4 L906.4,234.3 L907.0,234.3 L907.6,234.6 L908.2,235.0 L908.7,235.0 L909.3,235.1 L909.9,235.3 L910.5,235.2 L911.0,235.5 L911.6,235.8 L912.2,235.6 L912.8,235.6 L913.4,235.7 L914.0,235.6 L914.6,235.6 L915.2,235.7 L915.8,235.5 L916.4,235.4 L917.0,235.2 L917.6,235.5 L918.2,235.5 L918.8,235.7 L919.4,235.8 L920.0,236.0 L920.6,236.3 L921.2,236.4 L921.8,236.7 L922.3,236.1 L922.9,235.6 L923.5,234.8 L924.0,234.3 L924.5,233.6 L925.1,232.8 L925.7,232.4 L926.3,232.0 L926.9,231.6 L927.5,231.4 L928.1,230.8 L928.7,230.2 L929.3,229.6 L929.9,229.2 L930.5,228.7 L931.1,228.5 L931.7,228.3 L932.3,228.3 L932.9,228.0 L933.5,227.8 L934.1,227.4 L934.7,227.1 L935.3,227.0 L935.9,226.9 L936.5,226.3 L937.1,226.2 L937.7,226.2 L938.2,226.0 L938.8,225.5 L939.4,225.2 L940.0,225.1 L940.6,224.9 L941.2,224.5 L941.8,224.1 L942.4,224.0 L943.0,223.6 L943.6,223.6 L944.2,223.4 L944.8,223.2 L945.4,222.7 L946.0,222.5 L946.6,222.5 L947.3,222.1 L947.9,222.3 L948.5,221.9 L949.1,221.6 L949.7,221.5 L950.3,221.5 L951.0,221.5 L951.6,221.3 L952.2,221.1 L952.8,221.1 L953.4,221.1 L954.0,220.8 L954.6,221.0 L955.2,221.1 L955.8,221.2 L956.4,221.2 L957.0,221.3 L957.6,221.4 L958.2,221.2 L958.8,221.3 L959.4,220.9 L960.0,220.9 L960.6,220.6 L961.2,220.5 L961.8,220.6 L962.4,220.3 L963.0,220.2 L963.6,220.1 L964.2,220.2 L964.8,220.1 L965.4,219.8 L966.0,219.9 L966.7,219.8 L967.3,219.8 L967.9,219.9 L968.5,219.7 L969.1,219.7 L969.7,219.6 L970.3,219.6 L970.9,219.4 L971.5,219.5 L972.1,219.7 L972.7,219.5 L973.3,219.6 L973.9,219.1 L974.5,219.2 L975.1,219.0 L975.7,219.1 L976.3,219.1 L976.9,219.0 L977.5,218.9 L978.1,219.0 L978.7,219.3 L979.3,219.5 L979.9,219.5 L980.5,219.5 L981.1,219.0 L981.7,218.4 L982.3,218.2 L982.8,217.9 L983.4,217.4 L984.0,216.9 L984.6,216.3 L985.2,216.5 L985.8,216.6 L986.5,216.4 L987.1,216.6 L987.7,216.4 L988.3,216.5 L988.9,216.3 L989.5,216.3 L990.2,216.4 L990.8,216.4 L991.4,216.6 L992.0,216.2 L992.6,216.1 L993.2,216.0 L993.8,215.7 L994.4,215.5 L995.0,215.1 L995.6,214.8 L996.2,214.3 L996.8,214.1 L997.4,213.7 L997.9,213.5 L998.5,213.2 L999.1,212.9 L999.7,212.4 L1000.2,212.0 L1000.8,211.5 L1001.4,211.6 L1002.0,211.5 L1002.7,211.7 L1003.3,211.6 L1003.9,211.7 L1004.5,211.9 L1005.1,211.9 L1005.7,212.3 L1006.4,212.4 L1007.0,212.8 L1007.6,213.1 L1008.2,212.9 L1008.8,213.0 L1009.4,213.1 L1010.0,213.0 L1010.6,213.0 L1011.3,212.8 L1011.9,212.8 L1012.5,212.8 L1013.1,212.8 L1013.7,212.9 L1014.3,213.1 L1014.9,213.0 L1015.5,213.0 L1016.2,213.1 L1016.8,213.0 L1017.4,212.8 L1018.0,212.9 L1018.6,212.8 L1019.2,212.9 L1019.9,212.7 L1020.5,213.0 L1021.1,212.8 L1021.7,212.8 L1022.3,212.8 L1022.9,212.5 L1023.5,212.5 L1024.1,212.2 L1024.7,211.7 L1025.3,211.7 L1025.9,211.7 L1026.5,211.5 L1027.1,211.2 L1027.7,211.3 L1028.3,211.4 L1028.9,211.5 L1029.5,211.6 L1030.1,211.5 L1030.7,211.6 L1031.3,212.0 L1031.9,212.4 L1032.5,211.9 L1033.1,211.5 L1033.7,211.2 L1034.2,210.9 L1034.8,210.6 L1035.4,210.1 L1036.0,209.7 L1036.6,209.4 L1037.2,209.5 L1037.8,209.5 L1038.4,209.4 L1038.9,209.4 L1039.5,209.2 L1040.1,209.3 L1040.7,209.0 L1041.2,209.0 L1041.8,209.1 L1042.3,208.9 L1042.9,208.7 L1043.4,208.6" fill="none" stroke="#FF0000" stroke-width="4.6" stroke-linejoin="round" stroke-linecap="round"/>
<path d="M390.3,311.1 L390.9,310.7 L391.5,310.6 L392.1,310.4 L392.7,310.3 L393.3,309.9 L393.9,309.8 L394.6,309.6 L395.2,309.5 L395.8,309.5 L396.4,309.6 L397.0,309.3 L397.6,309.0 L398.2,308.7 L398.8,308.7 L399.4,308.7 L400.0,308.5 L400.6,308.6 L401.2,308.4 L401.8,308.4 L402.4,308.4 L403.0,308.4 L403.6,308.6 L404.2,308.4 L404.8,308.3 L405.4,308.2 L406.0,308.2 L406.6,307.9 L407.2,307.8 L407.8,307.7 L408.4,307.7 L409.0,307.8 L409.6,307.7 L410.2,307.6 L410.8,307.6 L411.5,307.1 L412.1,307.2 L412.7,307.2 L413.3,307.2 L413.9,307.1 L414.5,306.9 L415.1,306.8 L415.7,307.0 L416.3,306.9 L416.9,307.0 L417.5,306.5 L418.0,306.4 L418.6,306.4 L419.2,306.3 L419.8,306.0 L420.4,305.9 L421.0,306.1 L421.6,305.8 L422.2,305.6 L422.8,305.5 L423.4,305.4 L423.9,305.5 L424.5,305.5 L425.1,305.2 L425.7,305.4 L426.3,305.3 L426.9,305.1 L427.5,305.4 L428.1,305.3 L428.7,305.1 L429.3,305.0 L429.9,304.8 L430.5,304.7 L431.1,304.6 L431.7,304.8 L432.2,304.8 L432.8,304.5 L433.4,304.9 L434.0,304.7 L434.6,304.7 L435.2,304.6 L435.8,304.7 L436.4,304.6 L437.0,304.6 L437.6,304.8 L438.2,304.7 L438.8,304.4 L439.5,304.3 L440.1,304.1 L440.7,304.0 L441.3,304.0 L441.9,303.9 L442.5,303.8 L443.2,303.9 L443.8,303.7 L444.4,303.5 L445.0,303.5 L445.6,303.3 L446.3,303.4 L446.9,303.1 L447.5,303.1 L448.1,303.0 L448.8,302.5 L449.4,302.2 L450.0,302.0 L450.6,302.2 L451.2,301.8 L451.8,301.9 L452.4,302.1 L453.0,302.1 L453.6,302.1 L454.2,301.9 L454.8,301.8 L455.4,301.7 L456.0,301.7 L456.6,301.7 L457.2,301.6 L457.8,301.3 L458.4,301.2 L459.0,301.2 L459.6,300.8 L460.2,300.6 L460.8,300.5 L461.4,300.4 L462.0,300.3 L462.6,299.9 L463.2,299.9 L463.8,299.9 L464.4,300.0 L465.0,299.7 L465.6,299.6 L466.2,299.7 L466.8,299.8 L467.4,299.9 L468.0,300.0 L468.6,299.7 L469.2,299.7 L469.8,299.6 L470.4,299.4 L471.0,299.5 L471.5,299.3 L472.1,299.1 L472.7,299.0 L473.3,298.8 L473.9,298.9 L474.5,298.9 L475.1,299.0 L475.7,299.0 L476.3,298.8 L476.9,298.8 L477.5,298.6 L478.1,298.4 L478.7,298.3 L479.3,298.2 L479.9,298.3 L480.5,298.1 L481.1,298.1 L481.7,297.9 L482.3,297.6 L482.9,297.4 L483.5,297.3 L484.1,297.2 L484.7,297.2 L485.3,297.2 L485.9,297.1 L486.5,296.9 L487.1,296.8 L487.7,296.6 L488.3,296.3 L488.9,296.2 L489.5,295.9 L490.1,295.8 L490.7,295.6 L491.2,295.5 L491.8,295.5 L492.4,295.3 L493.0,295.2 L493.6,294.9 L494.2,294.9 L494.8,294.7 L495.4,294.8 L496.0,294.3 L496.6,294.2 L497.2,294.2 L497.8,293.9 L498.4,293.8 L499.0,293.8 L499.6,293.8 L500.2,293.6 L500.8,293.6 L501.4,293.6 L502.0,293.5 L502.6,293.6 L503.2,293.5 L503.8,293.5 L504.4,293.4 L505.0,293.5 L505.6,293.4 L506.2,293.5 L506.7,293.5 L507.3,293.3 L507.9,293.2 L508.5,293.3 L509.1,293.1 L509.7,293.1 L510.3,293.1 L510.9,293.0 L511.5,292.5 L512.1,292.5 L512.7,292.5 L513.3,292.5 L513.9,292.3 L514.5,292.4 L515.1,292.3 L515.7,292.2 L516.3,292.0 L516.8,292.0 L517.4,291.8 L518.0,291.6 L518.6,291.9 L519.2,292.0 L519.8,292.0 L520.4,292.1 L521.0,292.1 L521.6,291.7 L522.2,291.7 L522.8,291.8 L523.4,291.7 L524.0,291.2 L524.6,291.3 L525.2,291.3 L525.8,291.1 L526.4,291.0 L527.0,291.0 L527.6,290.8 L528.2,290.8 L528.8,290.7 L529.4,290.6 L530.0,290.5 L530.6,290.1 L531.2,289.9 L531.8,290.2 L532.3,290.1 L532.9,290.2 L533.5,290.2 L534.1,290.2 L534.7,290.1 L535.3,289.8 L535.9,289.6 L536.5,289.2 L537.1,289.0 L537.7,289.1 L538.3,288.6 L538.9,288.6 L539.5,288.6 L540.1,288.7 L540.7,288.4 L541.3,288.2 L541.9,287.9 L542.5,287.7 L543.1,287.8 L543.7,288.1 L544.3,287.9 L544.9,288.1 L545.5,288.1 L546.1,288.0 L546.7,288.2 L547.3,287.8 L547.9,287.7 L548.5,287.7 L549.1,288.0 L549.7,288.2 L550.3,288.4 L551.0,288.3 L551.6,288.3 L552.2,288.3 L552.8,288.2 L553.4,288.1 L554.0,288.0 L554.6,287.8 L555.2,287.5 L555.8,287.7 L556.4,287.5 L557.0,287.2 L557.6,287.2 L558.2,287.1 L558.8,287.1 L559.4,287.3 L560.0,287.2 L560.6,287.1 L561.2,287.0 L561.7,286.9 L562.3,286.8 L562.9,286.8 L563.5,287.3 L564.0,287.2 L564.6,287.0 L565.2,287.2 L565.8,287.3 L566.4,287.3 L566.9,287.3 L567.5,287.3 L568.1,287.2 L568.7,287.3 L569.3,287.2 L569.8,287.2 L570.4,286.9 L571.0,286.7 L571.6,286.4 L572.2,286.4 L572.7,286.4 L573.3,286.1 L573.9,286.1 L574.5,286.3 L575.0,286.3 L575.6,285.9 L576.2,285.7 L576.8,285.7 L577.4,285.5 L578.1,285.4 L578.7,285.5 L579.3,285.4 L579.9,285.1 L580.6,285.1 L581.2,284.9 L581.8,284.8 L582.4,284.6 L583.1,284.3 L583.7,284.1 L584.3,284.0 L584.9,283.7 L585.5,283.1 L586.2,283.1 L586.8,282.8 L587.4,282.5 L588.0,282.4 L588.6,281.9 L589.2,281.9 L589.9,281.6 L590.5,281.6 L591.1,281.3 L591.7,281.1 L592.3,280.9 L592.9,280.7 L593.5,280.2 L594.1,279.8 L594.7,279.6 L595.3,279.6 L595.9,279.3 L596.5,279.2 L597.1,279.3 L597.7,279.5 L598.3,279.7 L598.9,279.5 L599.5,279.7 L600.2,279.7 L600.8,279.8 L601.4,279.8 L602.0,279.8 L602.6,279.7 L603.2,279.7 L603.8,280.1 L604.4,280.3 L605.0,280.2 L605.5,280.2 L606.1,280.0 L606.7,279.5 L607.3,279.2 L607.9,279.2 L608.5,279.4 L609.1,279.4 L609.6,279.2 L610.2,279.2 L610.8,279.0 L611.4,278.8 L612.0,278.7 L612.6,278.6 L613.1,278.4 L613.7,278.3 L614.3,278.1 L614.9,278.1 L615.5,278.3 L616.0,278.2 L616.6,278.4 L617.2,278.0 L617.8,278.0 L618.3,277.7 L618.9,277.6 L619.5,277.5 L620.1,277.5 L620.7,277.6 L621.2,277.4 L621.8,277.2 L622.4,277.1 L623.0,277.1 L623.5,276.9 L624.1,277.0 L624.7,277.1 L625.3,276.8 L625.9,276.8 L626.4,276.8 L627.0,276.4 L627.6,276.4 L628.2,276.3 L628.8,276.1 L629.3,276.3 L629.9,276.3 L630.5,276.1 L631.1,276.2 L631.7,276.2 L632.2,276.3 L632.8,276.3 L633.4,276.3 L634.0,276.0 L634.5,275.9 L635.1,275.9 L635.7,275.4 L636.3,275.8 L636.9,275.8 L637.5,275.7 L638.1,275.6 L638.7,275.7 L639.4,275.8 L640.0,275.8 L640.6,275.9 L641.2,275.9 L641.8,275.9 L642.4,276.0 L643.0,276.0 L643.6,276.1 L644.2,276.1 L644.8,276.2 L645.4,276.3 L646.0,276.5 L646.6,276.6 L647.2,276.6 L647.8,276.5 L648.4,276.2 L649.0,276.0 L649.6,275.9 L650.2,275.7 L650.8,275.5 L651.4,275.1 L652.0,274.7 L652.6,274.6 L653.2,274.6 L653.8,274.6 L654.4,274.3 L655.1,274.2 L655.7,274.1 L656.3,273.9 L656.9,273.9 L657.5,273.8 L658.1,273.6 L658.8,273.4 L659.4,273.5 L660.0,273.5 L660.6,273.3 L661.2,273.2 L661.8,273.4 L662.4,273.4 L663.0,273.4 L663.6,273.6 L664.2,273.5 L664.8,273.3 L665.4,273.5 L666.0,273.5 L666.5,273.5 L667.1,273.6 L667.7,273.4 L668.3,273.3 L668.9,273.3 L669.4,273.6 L670.0,273.5 L670.6,273.8 L671.2,273.9 L671.8,273.8 L672.3,274.0 L672.9,274.2 L673.5,274.1 L674.1,273.6 L674.7,273.4 L675.4,273.1 L676.0,272.9 L676.6,272.5 L677.2,272.3 L677.8,272.0 L678.4,271.6 L679.1,271.4 L679.7,271.3 L680.3,271.0 L680.9,270.6 L681.5,270.5 L682.1,270.0 L682.7,269.9 L683.3,269.8 L684.0,269.8 L684.6,269.7 L685.2,269.5 L685.8,269.2 L686.4,268.9 L687.0,268.4 L687.6,268.3 L688.2,268.1 L688.8,267.7 L689.4,267.2 L690.0,267.2 L690.6,266.9 L691.2,266.4 L691.8,266.2 L692.4,266.2 L693.0,265.9 L693.6,265.8 L694.2,265.5 L694.7,265.1 L695.3,265.1 L695.9,265.3 L696.5,265.1 L697.1,265.1 L697.7,265.2 L698.3,265.2 L698.9,265.3 L699.5,265.5 L700.1,265.4 L700.7,265.3 L701.3,265.4 L701.9,265.6 L702.5,265.5 L703.0,265.5 L703.6,265.2 L704.2,265.1 L704.8,264.9 L705.3,264.8 L705.9,264.8 L706.5,264.9 L707.1,265.1 L707.7,265.1 L708.3,265.5 L709.0,265.6 L709.6,265.8 L710.2,266.1 L710.8,266.3 L711.4,266.7 L712.0,266.7 L712.6,266.9 L713.2,267.0 L713.8,266.9 L714.4,266.9 L715.1,266.9 L715.7,266.9 L716.3,267.0 L716.9,267.3 L717.5,267.3 L718.1,267.6 L718.7,267.9 L719.3,268.0 L719.9,267.9 L720.5,268.3 L721.1,268.3 L721.7,268.8 L722.3,269.3 L722.9,269.6 L723.5,269.9 L724.1,270.0 L724.7,270.1 L725.3,270.2 L725.8,270.3 L726.4,270.4 L727.0,270.7 L727.6,270.7 L728.2,270.7 L728.8,270.3 L729.4,270.1 L730.0,269.8 L730.6,269.7 L731.2,269.7 L731.8,269.6 L732.4,269.4 L733.0,269.4 L733.6,269.2 L734.2,269.1 L734.8,269.0 L735.4,269.0 L736.0,268.4 L736.6,268.1 L737.2,268.2 L737.8,268.0 L738.4,268.2 L739.0,268.1 L739.6,268.0 L740.2,268.1 L740.8,268.1 L741.4,268.3 L742.1,268.2 L742.7,268.0 L743.3,268.0 L743.9,267.8 L744.5,267.6 L745.1,267.4 L745.7,267.3 L746.3,267.3 L747.0,267.2 L747.6,267.1 L748.2,266.9 L748.8,267.0 L749.4,266.5 L750.0,266.4 L750.7,266.4 L751.3,266.1 L751.9,266.3 L752.5,266.2 L753.1,266.2 L753.7,266.2 L754.3,266.1 L754.9,265.8 L755.5,265.5 L756.1,265.3 L756.7,265.1 L757.3,265.0 L757.9,264.7 L758.5,265.0 L759.1,264.5 L759.7,264.5 L760.3,264.2 L760.9,264.0 L761.5,264.0 L762.1,263.8 L762.7,263.4 L763.3,263.2 L763.9,262.8 L764.5,262.3 L765.1,262.0 L765.7,261.6 L766.4,261.3 L767.0,261.1 L767.6,260.9 L768.2,260.6 L768.8,260.7 L769.4,260.5 L770.0,260.1 L770.6,260.0 L771.2,260.0 L771.8,259.6 L772.4,259.3 L773.0,259.1 L773.6,259.5 L774.2,259.4 L774.8,259.4 L775.4,259.3 L776.0,259.4 L776.6,259.3 L777.2,259.5 L777.8,259.6 L778.4,259.6 L779.0,259.3 L779.6,259.1 L780.2,258.8 L780.8,258.6 L781.4,258.1 L782.0,257.8 L782.6,257.5 L783.2,257.3 L783.8,257.2 L784.4,257.0 L785.0,256.8 L785.5,256.6 L786.1,256.4 L786.7,256.2 L787.3,255.8 L787.9,255.7 L788.5,255.5 L789.1,255.3 L789.7,255.3 L790.3,255.5 L790.9,255.2 L791.5,255.3 L792.1,255.2 L792.7,254.9 L793.3,254.4 L793.9,254.0 L794.5,253.6 L795.1,253.1 L795.7,252.5 L796.3,252.1 L796.9,251.8 L797.5,251.5 L798.1,251.1 L798.7,250.9 L799.3,250.3 L799.9,249.9 L800.5,249.6 L801.1,249.4 L801.7,249.0 L802.3,248.7 L802.9,248.3 L803.5,248.3 L804.1,247.6 L804.7,247.3 L805.3,247.4 L805.9,247.1 L806.5,246.5 L807.1,246.3 L807.7,245.8 L808.3,245.5 L808.9,245.3 L809.5,245.1 L810.1,244.7 L810.7,244.3 L811.2,244.0 L811.8,243.5 L812.4,242.9 L813.0,242.4 L813.6,242.0 L814.2,242.0 L814.7,242.1 L815.3,242.2 L815.9,242.1 L816.4,242.2 L817.0,242.4 L817.6,242.1 L818.2,241.9 L818.8,241.9 L819.3,241.7 L819.9,241.4 L820.5,241.0 L821.1,240.6 L821.7,240.7 L822.3,240.6 L822.9,240.6 L823.5,240.5 L824.0,240.5 L824.6,240.5 L825.2,240.7 L825.8,240.6 L826.4,240.8 L827.0,241.0 L827.6,241.2 L828.1,241.6 L828.7,241.8 L829.3,241.8 L829.9,242.0 L830.5,242.4 L831.0,242.7 L831.6,243.1 L832.2,243.1 L832.8,243.8 L833.3,244.3 L833.9,244.5 L834.5,244.9 L835.0,245.4 L835.6,246.0 L836.2,246.2 L836.7,246.7 L837.3,247.1 L837.9,247.1 L838.4,247.3 L839.0,247.4 L839.6,247.1 L840.1,247.2 L840.7,247.3 L841.3,246.9 L841.8,246.6 L842.4,246.6 L843.0,246.2 L843.5,245.8 L844.1,245.4 L844.7,245.3 L845.3,244.7 L845.9,244.7 L846.5,244.3 L847.1,244.1 L847.7,243.6 L848.3,243.3 L848.9,243.0 L849.5,242.9 L850.1,242.5 L850.7,242.5 L851.3,242.3 L851.9,242.4 L852.5,242.3 L853.2,242.2 L853.8,242.1 L854.4,242.2 L855.0,242.0 L855.6,241.9 L856.2,242.0 L856.8,241.8 L857.4,241.8 L858.1,241.5 L858.7,241.3 L859.3,240.9 L859.9,240.8 L860.5,240.6 L861.1,240.3 L861.8,240.0 L862.4,240.1 L863.0,240.1 L863.6,239.5 L864.2,239.5 L864.8,239.0 L865.4,238.6 L866.0,238.2 L866.6,237.7 L867.2,237.1 L867.8,236.7 L868.4,236.5 L869.0,236.5 L869.6,236.1 L870.2,236.1 L870.8,235.9 L871.4,235.8 L872.0,235.6 L872.6,235.4 L873.2,235.0 L873.8,234.7 L874.4,234.2 L875.0,233.8 L875.6,233.6 L876.1,233.0 L876.7,232.9 L877.3,232.5 L877.9,232.0 L878.5,231.7 L879.1,232.3 L879.6,232.8 L880.2,233.2 L880.8,233.6 L881.3,233.9 L881.9,234.7 L882.5,234.8 L883.1,235.1 L883.7,235.2 L884.3,235.2 L884.9,235.2 L885.5,235.3 L886.1,235.2 L886.7,235.2 L887.3,235.5 L887.9,235.1 L888.5,234.8 L889.2,234.7 L889.8,234.8 L890.4,234.9 L891.0,234.8 L891.6,234.8 L892.2,234.8 L892.9,234.7 L893.5,234.6 L894.1,234.6 L894.7,234.6 L895.3,234.8 L895.9,235.1 L896.5,234.8 L897.1,234.9 L897.8,234.9 L898.4,235.0 L899.0,235.2 L899.6,235.3 L900.2,235.4 L900.8,235.2 L901.4,234.9 L902.0,235.1 L902.7,235.3 L903.3,235.1 L903.9,235.2 L904.5,235.3 L905.1,234.9 L905.7,235.0 L906.4,234.8 L907.0,235.0 L907.6,234.9 L908.2,234.6 L908.8,234.2 L909.4,234.1 L910.0,234.1 L910.6,233.8 L911.2,233.4 L911.8,233.6 L912.4,233.7 L913.0,233.6 L913.6,233.3 L914.2,233.3 L914.8,233.2 L915.4,233.6 L916.0,234.0 L916.7,234.0 L917.3,234.2 L917.9,234.4 L918.5,234.6 L919.1,234.9 L919.7,235.4 L920.3,234.9 L920.9,234.6 L921.5,234.3 L922.0,233.8 L922.6,233.4 L923.2,232.8 L923.8,232.5 L924.4,232.5 L925.0,232.5 L925.6,232.6 L926.2,232.6 L926.8,232.5 L927.4,232.6 L928.0,232.9 L928.6,233.0 L929.2,233.1 L929.8,232.8 L930.4,232.4 L931.0,232.6 L931.6,232.4 L932.2,232.0 L932.8,231.9 L933.4,231.9 L934.0,231.5 L934.6,231.3 L935.2,231.3 L935.8,231.2 L936.4,231.2 L937.0,231.3 L937.6,231.3 L938.2,231.1 L938.8,231.0 L939.4,230.9 L940.0,230.8 L940.6,230.6 L941.2,230.4 L941.8,230.4 L942.4,230.6 L943.0,230.3 L943.6,230.1 L944.2,230.0 L944.8,229.9 L945.4,229.6 L946.0,229.0 L946.6,228.7 L947.2,228.3 L947.7,227.9 L948.3,227.3 L948.9,226.9 L949.5,226.5 L950.1,226.3 L950.7,226.2 L951.3,226.4 L951.9,225.8 L952.5,225.8 L953.1,225.4 L953.7,225.0 L954.3,224.9 L954.9,224.8 L955.5,224.4 L956.0,223.8 L956.6,223.2 L957.2,222.7 L957.8,222.3 L958.3,221.8 L958.9,221.2 L959.5,221.5 L960.1,221.3 L960.7,221.2 L961.3,221.0 L961.9,220.9 L962.5,220.8 L963.1,220.7 L963.7,220.7 L964.3,220.5 L964.9,220.5 L965.5,221.0 L966.1,221.2 L966.7,221.5 L967.3,221.9 L967.9,222.1 L968.5,222.2 L969.1,222.1 L969.7,221.6 L970.3,221.5 L970.9,221.4 L971.5,221.1 L972.0,220.6 L972.6,220.0 L973.2,219.7 L973.8,219.3 L974.4,219.5 L975.0,219.6 L975.6,220.1 L976.2,220.2 L976.8,220.3 L977.5,220.6 L978.1,220.8 L978.7,220.8 L979.3,221.1 L979.9,221.6 L980.5,221.5 L981.1,221.0 L981.7,220.3 L982.3,219.5 L982.9,219.2 L983.5,218.8 L984.1,218.5 L984.7,218.0 L985.3,217.2 L985.9,217.1 L986.5,216.9 L987.1,216.6 L987.7,216.4 L988.3,216.4 L989.0,216.3 L989.6,216.5 L990.2,216.5 L990.8,216.0 L991.4,216.1 L992.0,216.3 L992.6,216.3 L993.2,216.1 L993.8,216.4 L994.4,216.2 L995.0,216.3 L995.6,216.0 L996.2,215.9 L996.8,215.7 L997.4,216.0 L997.9,215.3 L998.5,214.4 L999.0,213.3 L999.5,212.4 L1000.1,212.4 L1000.7,212.1 L1001.3,212.0 L1001.9,211.9 L1002.5,212.0 L1003.1,212.0 L1003.7,212.0 L1004.3,211.8 L1004.9,211.4 L1005.5,211.5 L1006.1,211.4 L1006.7,211.5 L1007.3,211.4 L1007.9,211.6 L1008.5,211.5 L1009.1,211.7 L1009.7,211.7 L1010.3,211.8 L1010.9,211.8 L1011.5,211.8 L1012.1,211.7 L1012.7,211.3 L1013.3,211.1 L1013.9,211.2 L1014.5,211.2 L1015.1,211.1 L1015.7,211.0 L1016.3,210.7 L1016.9,210.4 L1017.5,210.2 L1018.1,210.2 L1018.7,210.1 L1019.3,210.2 L1019.9,210.0 L1020.5,210.1 L1021.1,209.9 L1021.7,209.5 L1022.3,209.6 L1022.9,209.4 L1023.5,209.3 L1024.1,209.1 L1024.7,208.9 L1025.3,208.7 L1025.9,208.3 L1026.5,208.0 L1027.1,207.9 L1027.7,207.8 L1028.3,207.7 L1028.9,207.7 L1029.5,207.9 L1030.1,208.2 L1030.7,208.5 L1031.3,208.5 L1031.9,208.6 L1032.5,208.1 L1033.1,207.8 L1033.7,207.4 L1034.2,206.9 L1034.8,206.5 L1035.4,205.9 L1036.0,205.6 L1036.6,205.2 L1037.2,205.2 L1037.8,205.2 L1038.4,205.4 L1038.9,205.4 L1039.5,205.6 L1040.1,205.8 L1040.7,206.1 L1041.2,206.0 L1041.8,206.1 L1042.3,206.3 L1042.9,206.6 L1043.4,206.4" fill="none" stroke="#969696" stroke-width="4.6" stroke-linejoin="round" stroke-linecap="round"/>
</g>
<g font-family="'Liberation Serif', serif" font-size="26.67" fill="#000" text-anchor="end">
<text transform="translate(88.5,320.30) rotate(-0.03)">0</text>
<text transform="translate(88.5,292.12) rotate(-0.03)">2000</text>
<text transform="translate(88.5,263.94) rotate(-0.03)">4000</text>
<text transform="translate(88.5,235.76) rotate(-0.03)">6000</text>
<text transform="translate(88.5,207.58) rotate(-0.03)">8000</text>
<text transform="translate(88.5,179.40) rotate(-0.03)">10000</text>
<text transform="translate(88.5,151.22) rotate(-0.03)">12000</text>
<text transform="translate(88.5,123.04) rotate(-0.03)">14000</text>
<text transform="translate(88.5,94.86) rotate(-0.03)">16000</text>
</g>
<g font-family="'Liberation Serif', serif" font-size="27.2" fill="#000" text-anchor="end">
<text transform="translate(118.6,345.7) rotate(-45)">2014/11/17</text>
<text transform="translate(254.6,345.7) rotate(-45)">2015/11/17</text>
<text transform="translate(390.6,345.7) rotate(-45)">2016/11/17</text>
<text transform="translate(526.6,345.7) rotate(-45)">2017/11/17</text>
<text transform="translate(662.6,345.7) rotate(-45)">2018/11/17</text>
<text transform="translate(798.6,345.7) rotate(-45)">2019/11/17</text>
<text transform="translate(934.6,345.7) rotate(-45)">2020/11/17</text>
</g>
<g stroke-width="4.6" stroke-linecap="round" fill="none">
<path d="M301.5,29.6 H358.5" stroke="#0070C0"/>
<path d="M478,29.6 H535" stroke="#FF0000"/>
<path d="M653.5,29.6 H710.5" stroke="#969696"/>
</g>
<g font-family="'Liberation Serif', 'Noto Serif CJK SC', serif" font-size="25" letter-spacing="1.67" fill="#000">
<text transform="translate(368,38.6) rotate(-0.03)">陆股通</text>
<text transform="translate(544,38.6) rotate(-0.03)">沪股通</text>
<text transform="translate(720,38.6) rotate(-0.03)">深股通</text>
</g>
</svg>
</body></html>
